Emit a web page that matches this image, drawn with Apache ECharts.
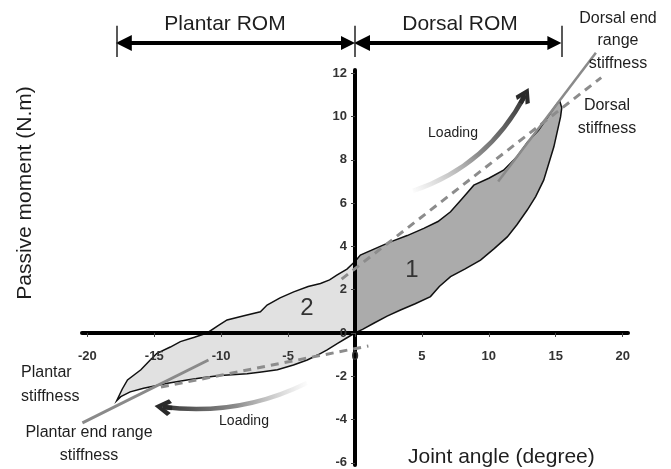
<!DOCTYPE html>
<html><head><meta charset="utf-8">
<script src="https://cdn.jsdelivr.net/npm/echarts@6/dist/echarts.min.js"></script>
<style>html,body{margin:0;padding:0;background:#fff}#c{width:671px;height:469px}</style>
</head><body><div id="c"></div>
<script>
// ---- data ----
const xTicks = [-20, -15, -10, -5, 0, 5, 10, 15, 20];
const yTicks = [-6, -4, -2, 0, 2, 4, 6, 8, 10, 12];

// upper boundary of the hysteresis loop (left to right)
const upperX = [-17.8,-17.4,-17.0,-16.0,-15.3,-14.8,-13.8,-13.05,-12.0,-11.05,-10.2,-9.56,-8.3,-7.07,-6.57,-5.6,-4.58,-3.5,-2.58,-1.9,-1.33,-0.6,0,0.4,1.5,2.65,3.9,5.14,6.2,7.14,8.0,8.88,10.0,11.1,12.1,12.9,13.7,14.4,15.1,15.3];
const upperY = [-3.12,-2.6,-2.17,-1.7,-1.25,-0.94,-0.65,-0.4,-0.2,0.0,0.35,0.6,0.8,0.98,1.29,1.62,1.9,2.15,2.29,2.45,2.68,2.95,3.3,3.6,3.9,4.21,4.5,4.83,5.15,5.6,6.2,6.83,7.15,7.52,8.14,8.83,9.35,9.98,10.6,10.72];
// lower boundary of the loop (from the peak, right to left)
const lowerX = [15.45,15.36,14.86,14.1,13.5,12.87,12.1,11.38,10.4,9.38,8.2,7.14,6.3,5.64,4.5,3.4,2.4,1.4,0.6,0,-0.6,-1.3,-2.08,-2.8,-3.57,-4.6,-5.8,-7.0,-8.06,-10.06,-11.3,-12.55,-14.0,-15.8,-16.8,-17.5,-17.8];
const lowerY = [10.4,9.98,8.6,7.06,6.3,5.68,5.0,4.44,3.9,3.37,2.95,2.6,2.15,1.68,1.35,1.06,0.78,0.45,0.18,0.0,-0.22,-0.48,-0.78,-1.02,-1.25,-1.48,-1.7,-1.8,-1.88,-1.96,-2.06,-2.17,-2.32,-2.55,-2.72,-2.94,-3.12];

// stiffness lines [x, y] end points
const dorsalEndStiff = [[10.7, 7.0], [18.0, 12.95]];
const dorsalStiff = [[-1.0, 2.49], [18.4, 11.8]];
const plantarStiff = [[-14.5, -2.5], [1.0, -0.6]];
const plantarEndStiff = [[-20.37, -4.15], [-10.95, -1.25]];

// range of motion (x from, x to) and level
const romPlantar = [-17.8, 0];
const romDorsal = [0, 15.42];
const romLevel = 13.4;
const romBar = [12.75, 14.2];

// loading arrows [tail, tip] and head segment start
const loadUp = [[4.33, 6.56], [12.7, 10.99]];
const loadUpHead = [12.38, 10.61];
const loadDown = [[-3.59, -2.31], [-14.35, -3.42]];
const loadDownHead = [-13.67, -3.47];

// ---- layout ----
const G = { left: 82, right: 43, top: 70, bottom: 4 };
const W = 671, H = 469;
const XMIN = -20.4, XMAX = 20.4, YMIN = -6.1, YMAX = 12.15;
const plotW = W - G.left - G.right, plotH = H - G.top - G.bottom;
const xOffset = -(plotH * (0 - YMIN) / (YMAX - YMIN));   // move x axis up to y = 0
const yOffset = -(plotW * (0 - XMIN) / (XMAX - XMIN));   // move y axis right to x = 0
const headInset = 7 / (plotW / (XMAX - XMIN));            // half arrow-head length in data units

// ---- build polygons ----
const up = upperX.map((x, i) => [x, upperY[i]]);
const lo = lowerX.map((x, i) => [x, lowerY[i]]);
const region2 = up.filter(p => p[0] <= 0).concat(lo.filter(p => p[0] <= 0));
const region1 = up.filter(p => p[0] >= 0).concat(lo.filter(p => p[0] >= 0));

const FONT = 'Liberation Sans, Arial, Helvetica, sans-serif';
const chart = echarts.init(document.getElementById('c'));

function txt(text, x, y, size, align, extra) {
  return {
    type: 'text', x: x, y: y, z: 100,
    style: Object.assign({
      text: text, fontSize: size, fontFamily: FONT, fill: '#1e1e1e',
      align: align, textAlign: align, verticalAlign: 'middle', textVerticalAlign: 'middle'
    }, extra || {})
  };
}

const chevron = 'path://M10,0 L20,12 L16,15 L10,7 L4,15 L0,12 Z';

chart.setOption({
  animation: false,
  grid: Object.assign({ containLabel: false, outerBoundsMode: 'none' }, G),
  xAxis: {
    type: 'value', min: XMIN, max: XMAX, position: 'bottom', offset: xOffset,
    splitLine: { show: false },
    axisLine: { onZero: false, lineStyle: { color: '#000', width: 4 } },
    axisTick: { show: true, length: 4, customValues: xTicks, lineStyle: { color: '#444', width: 1 } },
    axisLabel: { customValues: xTicks, margin: 17, fontSize: 13, fontWeight: 'bold', color: '#333', fontFamily: FONT }
  },
  yAxis: {
    type: 'value', min: YMIN, max: YMAX, position: 'left', offset: yOffset,
    splitLine: { show: false },
    axisLine: { onZero: false, lineStyle: { color: '#000', width: 4 } },
    axisTick: { show: true, length: 4, customValues: yTicks, lineStyle: { color: '#444', width: 1 } },
    axisLabel: { customValues: yTicks, margin: 8, fontSize: 13, fontWeight: 'bold', color: '#333', fontFamily: FONT }
  },
  series: [
    {
      type: 'custom', z: -1, silent: true, data: [[0, 0]],
      renderItem: function (params, api) {
        return {
          type: 'group', children: [
            { type: 'polygon', shape: { points: region2.map(p => api.coord(p)) }, style: { fill: '#e1e1e1', stroke: '#111', lineWidth: 1.5 } },
            { type: 'polygon', shape: { points: region1.map(p => api.coord(p)) }, style: { fill: '#ababab', stroke: '#111', lineWidth: 1.5 } }
          ]
        };
      }
    },
    { type: 'line', data: dorsalEndStiff, symbol: 'none', clip: false, z: 3, silent: true, lineStyle: { color: '#8a8a8a', width: 2.5 } },
    { type: 'line', data: plantarEndStiff, symbol: 'none', clip: false, z: 3, silent: true, lineStyle: { color: '#8a8a8a', width: 3 } },
    { type: 'line', data: dorsalStiff, symbol: 'none', clip: false, z: 3, silent: true, lineStyle: { color: '#8c8c8c', width: 3, type: [8, 6] } },
    { type: 'line', data: plantarStiff, symbol: 'none', clip: false, z: 3, silent: true, lineStyle: { color: '#8c8c8c', width: 3, type: [8, 6] } },
    {
      type: 'lines', coordinateSystem: 'cartesian2d', clip: false, silent: true, z: 5,
      symbol: ['triangle', 'triangle'], symbolSize: [16, 14],
      lineStyle: { color: '#000', width: 4, opacity: 1, curveness: 0 },
      data: [
        { coords: [[romPlantar[0] + headInset, romLevel], [romPlantar[1] - headInset, romLevel]] },
        { coords: [[romDorsal[0] + headInset, romLevel], [romDorsal[1] - headInset, romLevel]] }
      ]
    },
    {
      type: 'lines', coordinateSystem: 'cartesian2d', clip: false, silent: true, z: 5,
      symbol: 'none', lineStyle: { color: '#222', width: 1.5, opacity: 1 },
      data: [
        { coords: [[romPlantar[0], romBar[0]], [romPlantar[0], romBar[1]]] },
        { coords: [[0, romBar[0]], [0, romBar[1]]] },
        { coords: [[romDorsal[1], romBar[0]], [romDorsal[1], romBar[1]]] }
      ]
    },
    {
      type: 'lines', coordinateSystem: 'cartesian2d', clip: false, silent: true, z: 4,
      symbol: 'none',
      data: [
        { coords: loadUp, lineStyle: { width: 4.5, opacity: 1, curveness: -0.2,
          color: new echarts.graphic.LinearGradient(0, 1, 1, 0, [{ offset: 0, color: 'rgba(170,170,170,0)' }, { offset: 0.5, color: '#8a8a8a' }, { offset: 1, color: '#333' }]) } },
        { coords: loadDown, lineStyle: { width: 4.5, opacity: 1, curveness: 0.15,
          color: new echarts.graphic.LinearGradient(1, 0, 0, 0, [{ offset: 0, color: 'rgba(170,170,170,0)' }, { offset: 0.5, color: '#8a8a8a' }, { offset: 1, color: '#333' }]) } }
      ]
    },
    {
      type: 'lines', coordinateSystem: 'cartesian2d', clip: false, silent: true, z: 4,
      symbol: ['none', chevron], symbolSize: [22, 16],
      lineStyle: { color: '#2a2a2a', width: 4.5, opacity: 1, curveness: 0 },
      data: [
        { coords: [loadUpHead, loadUp[1]] },
        { coords: [loadDownHead, loadDown[1]], symbolSize: [26, 17] }
      ]
    }
  ],
  graphic: [
    txt('Plantar ROM', 225, 24, 21, 'center'),
    txt('Dorsal ROM', 460, 24, 21, 'center'),
    txt('Dorsal end\nrange\nstiffness', 618, 41, 16, 'center', { lineHeight: 22.5 }),
    txt('Dorsal\nstiffness', 607, 117, 16, 'center', { lineHeight: 23 }),
    txt('Plantar\nstiffness', 21, 385, 16, 'left', { lineHeight: 24 }),
    txt('Plantar end range\nstiffness', 89, 444, 16, 'center', { lineHeight: 23 }),
    txt('Loading', 453, 133, 14, 'center'),
    txt('Loading', 244, 421, 14, 'center'),
    txt('1', 412, 270, 24, 'center', { fill: '#333' }),
    txt('2', 307, 308, 24, 'center', { fill: '#333' }),
    txt('Joint angle (degree)', 408, 457, 21, 'left'),
    { type: 'text', x: 25, y: 193, rotation: Math.PI / 2, z: 100,
      style: { text: 'Passive moment (N.m)', fontSize: 21, fontFamily: FONT, fill: '#1e1e1e', align: 'center', textAlign: 'center', verticalAlign: 'middle', textVerticalAlign: 'middle' } }
  ]
});
</script>
</body></html>
